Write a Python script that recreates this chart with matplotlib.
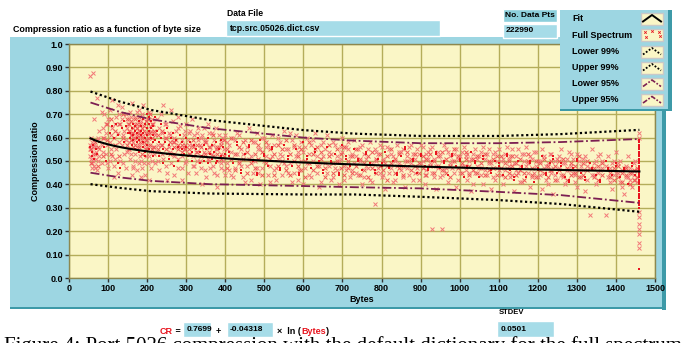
import numpy as np
import matplotlib.pyplot as plt
from matplotlib.patches import Rectangle

W, H = 683, 343
UI = ['Liberation Sans', 'DejaVu Sans']

# fit  CR = a + b * ln(Bytes)
fit_a = 0.7699
fit_b = -0.04318
stdev = 0.0501
n_points = 222990
data_file = 'tcp.src.05026.dict.csv'

x_ticks = list(range(0, 1600, 100))
y_ticks = [0.0, 0.1, 0.2, 0.3, 0.4, 0.5, 0.6, 0.7, 0.8, 0.9, 1.0]
y_tick_labels = ['0.0', '0.10', '0.20', '0.30', '0.40', '0.50',
                 '0.60', '0.70', '0.80', '0.90', '1.0']

# confidence bands
band_bytes = [55, 130, 210, 360, 600, 730, 900, 1100, 1260, 1460]
upper99 = [0.797, 0.754, 0.718, 0.675, 0.632, 0.617, 0.607, 0.607, 0.615, 0.633]
upper95 = [0.750, 0.710, 0.678, 0.640, 0.600, 0.587, 0.576, 0.576, 0.581, 0.594]
lower95 = [0.450, 0.430, 0.415, 0.401, 0.393, 0.388, 0.383, 0.368, 0.354, 0.321]
lower99 = [0.401, 0.385, 0.371, 0.361, 0.357, 0.357, 0.347, 0.333, 0.316, 0.283]

# full spectrum, one column per byte size: sparse samples / stacked samples
col_bytes = [55, 58, 61, 64, 68, 72, 78, 84, 90, 95, 100, 105, 110, 115, 120,
             125, 130, 135, 140, 145, 150, 155, 160, 165, 170, 175, 180, 185,
             190, 195, 200, 205, 210, 215, 220, 225, 230, 235, 240, 245, 250,
             255, 260, 265, 270, 275, 280, 285, 290, 295, 300, 305, 310, 315,
             320, 325, 330, 335, 340, 345, 350, 355, 360, 365, 370, 375, 380,
             385, 390, 395, 400,
             410, 420, 430, 440, 450, 460, 470, 480, 490, 500, 510, 520, 530,
             540, 550, 560, 570, 580, 590, 600, 610, 620, 630, 640, 650, 660,
             670, 680, 690, 700, 710, 720, 730,
             740, 750, 760, 770, 782, 790, 800, 810, 820, 830, 840, 850, 860,
             870, 880, 890, 900, 910, 920, 928, 930, 940, 950, 956, 960, 970,
             980, 990, 1000, 1010, 1020, 1030, 1040, 1050, 1060, 1070, 1080,
             1090, 1100,
             1110, 1120, 1130, 1140, 1150, 1160, 1170, 1180, 1190, 1200, 1210,
             1220, 1230, 1240, 1250, 1260, 1270, 1280, 1290, 1300, 1310, 1320,
             1333, 1340, 1350, 1360, 1374, 1380, 1390, 1400, 1410, 1420, 1430,
             1440, 1450, 1460]
col_cross = [
    [.864, .57, .55, .52], [.49, .47, .58], [.878, .56, .53, .50], [.57, .48, .68],
    [.54, .51], [.59, .46, .77], [.55, .63, .52], [.49, .57, .71], [.70, .60],
    [.66, .53, .62], [.47, .68], [.72, .58, .50], [.52, .64, .76], [.48, .60, .43],
    [.69, .55], [.45, .62, .74], [.66, .50], [.57, .73, .68], [.63, .53],
    [.47, .70, .59], [.55, .66], [.71, .51], [.62, .75, .44], [.58, .48],
    [.69, .53], [.64, .46], [.72, .57], [.67, .50, .43], [.61, .74], [.55, .44],
    [.68, .59], [.52, .71, .42], [.63, .47], [.56, .66], [.49, .61], [.68, .54],
    [.46, .64], [.57, .70], [.51, .74], [.60, .66], [.45, .42], [.56, .62],
    [.49, .72], [.67, .58], [.53, .44], [.63, .59], [.69, .51], [.56, .65],
    [.47, .42], [.61, .55], [.66, .50], [.59, .45], [.63, .53], [.68, .57],
    [.48, .61], [.54, .45], [.64, .59], [.50, .57], [.61, .40], [.54, .64],
    [.43, .58], [.51, .66], [.56, .47], [.62, .53], [.59, .45], [.64, .55],
    [.50, .39], [.61, .56], [.47, .53], [.60, .50], [.44, .61],
    [.57, .46], [.60, .43], [.53, .62], [.48, .55], [.59, .41], [.51, .64],
    [.45, .58], [.62, .47], [.55, .40], [.50, .60], [.44, .57], [.61, .52],
    [.47, .42], [.58, .53], [.63, .49], [.45, .55], [.59, .41], [.52, .61],
    [.46, .56], [.54, .40], [.60, .49], [.43, .57], [.55, .62], [.48, .39],
    [.58, .52], [.45, .61], [.53, .42], [.57, .47], [.50, .40], [.60, .54],
    [.46, .56], [.52, .43], [.59, .49],
    [.44, .55], [.57, .40], [.51, .48], [.42, .58], [.315, .55], [.53, .47],
    [.56, .43], [.49, .38], [.55, .45], [.41, .52], [.57, .48], [.46, .54],
    [.50, .39], [.56, .44], [.42, .53], [.55, .47], [.49, .57], [.44, .40],
    [.54, .51], [.21], [.56, .45], [.48, .38], [.52, .43], [.21], [.57, .46],
    [.41, .54], [.50, .47], [.55, .39], [.45, .52], [.56, .48], [.42, .53],
    [.51, .37], [.55, .45], [.47, .52], [.40, .56], [.53, .44], [.49, .38],
    [.54, .42], [.46, .55],
    [.51, .40], [.56, .47], [.43, .52], [.49, .37], [.55, .45], [.41, .53],
    [.48, .56], [.52, .39], [.45, .54], [.50, .43], [.55, .38], [.42, .48],
    [.53, .46], [.47, .36], [.51, .42], [.44, .55], [.49, .40], [.54, .46],
    [.45, .51], [.39, .53], [.48, .43], [.52, .37], [.27, .47], [.44, .55],
    [.50, .40], [.46, .53], [.27, .48], [.43, .52], [.49, .38], [.54, .45],
    [.41, .50], [.47, .36], [.52, .43], [.45, .39], [.50, .42],
    [.62, .60, .28, .26, .23, .21, .19, .15, .13]]
col_block = [
    [.56], [.54, .52], [.57], [.51, .59], [.55], [.53], [.58], [], [.56], [.50],
    [], [.62], [.65], [.60], [.66], [.61, .49], [.47], [.64], [.67, .58], [.65],
    [.62], [.60, .62], [.57, .64], [.66, .59, .61], [.63, .65, .55],
    [.58, .60, .62], [.67, .54, .59], [.63, .61, .65], [.56, .58, .62, .68],
    [.54, .66, .60, .52], [.64, .70, .57, .61], [.66, .69, .63, .55],
    [.67, .60, .64], [.58, .52, .61, .65], [.69, .59], [.63], [.58, .52],
    [.60, .66], [.55, .49], [.62, .58], [.53, .64], [.57, .51], [.60],
    [.55, .62], [.53, .48], [.59], [.56, .50], [.61], [.55, .58], [.53],
    [.60, .56], [.52], [.58], [.50, .54], [.57], [.52, .55], [.60], [.49, .54],
    [.52], [.57, .50], [.55], [.60, .49], [.53], [.57, .51], [.54], [.49, .58],
    [.50], [.55], [.52, .59], [.56], [.53],
    [.52, .54], [.49], [.57, .58], [.45, .46], [.53], [.56, .57], [.50],
    [.44, .45], [.59], [.52, .53], [.48], [.55, .56], [.50], [.46, .47], [.57],
    [.51, .52], [.48], [.55], [.44, .45], [.58], [.51, .52], [.47], [.54, .55],
    [.50], [.45, .46], [.56], [.49, .50], [.53], [.44, .45], [.57], [.51, .52],
    [.48], [.55],
    [.50, .51], [.46], [.53, .54], [.49], [.45, .46], [.51], [.48, .49], [.54],
    [.47, .48], [.50], [.44, .45], [.52], [.55, .56], [.48], [.50, .51], [.45],
    [.52, .53], [.48], [.46, .47], [], [.50], [.53, .54], [.47], [], [.49, .50],
    [.44], [.52, .53], [.48], [.50, .51], [.43], [.47, .48], [.54], [.49, .50],
    [.43], [.51, .52], [.47], [.45, .46], [.50], [.48, .49],
    [.44], [.52, .53], [.46], [.42, .43], [.50], [.47, .48], [.43], [.49, .50],
    [.41], [.46, .47], [.52], [.44, .45], [.49], [.51, .52], [.45], [.48, .49],
    [.43], [.41, .42], [.47], [.50, .51], [.45], [.42, .43], [.49], [.46, .47],
    [.44], [.41, .42], [.50], [.46, .47], [.44], [.48, .49], [.43], [.46, .47],
    [.40], [.48, .49], [.44],
    [.04, .30, .31, .32, .33, .34, .35, .36, .37, .38, .39, .40, .41, .42, .43,
     .44, .45, .46, .47, .48, .49, .50, .51, .52, .53, .54, .55, .56, .57, .58,
     .59]]

# in-between byte sizes (lighter samples)
mid_bytes = [57, 66, 75, 87, 98, 108, 118, 128, 138, 148, 153, 158, 163, 168,
             173, 178, 183, 188, 193, 198, 203, 208, 213, 218, 228, 238, 248,
             258, 268, 278, 288, 298, 308, 318, 328, 338, 348, 358, 368, 378,
             388, 398,
             405, 415, 425, 435, 445, 455, 465, 475, 485, 495, 505, 515, 525,
             535, 545, 555, 565, 575, 585, 595, 605, 615, 625, 635, 645, 655,
             665, 675, 685, 695, 705, 715, 725,
             735, 745, 755, 765, 775, 785, 795, 805, 815, 825, 835, 845, 855,
             865, 875, 885, 895, 905, 915, 925, 935, 945, 955, 965, 975, 985,
             995, 1005, 1015, 1025, 1035, 1045, 1055, 1065, 1075, 1085, 1095,
             1105, 1115, 1125, 1135, 1145, 1155, 1165, 1175, 1185, 1195, 1205,
             1215, 1225, 1235, 1245, 1255, 1265, 1275, 1285, 1295, 1305, 1315,
             1325, 1345, 1355, 1365, 1385, 1395, 1405, 1415, 1425, 1435, 1445,
             1455]
mid_cross = [
    [.60, .51], [.56, .47], [.60, .50], [.54, .64], [.57, .49], [.61, .55],
    [.51, .66], [.58, .70], [.49, .61], [.64, .54], [.58, .68], [.53, .69],
    [.60, .47], [.66, .50], [.56, .71], [.49, .62], [.60, .52], [.70, .47],
    [.57, .49], [.52, .62], [.57, .49], [.65, .54], [.50, .68], [.62, .53],
    [.57, .50], [.53, .62], [.48, .66], [.54, .61], [.52, .60], [.47, .64],
    [.52, .59], [.63, .49], [.57, .62], [.52, .48], [.62, .50], [.47, .60],
    [.59, .46], [.50, .62], [.48, .57], [.55, .44], [.58, .49], [.46, .55],
    [.49, .58], [.54, .44], [.47, .59], [.61, .50], [.43, .53], [.56, .48],
    [.52, .42], [.58, .50], [.45, .55], [.60, .47], [.52, .56], [.48, .41],
    [.57, .46], [.51, .60], [.44, .52], [.55, .48], [.49, .62], [.56, .45],
    [.42, .54], [.58, .50], [.47, .56], [.53, .44], [.50, .59], [.45, .52],
    [.57, .41], [.49, .55], [.54, .48], [.43, .58], [.52, .46], [.56, .51],
    [.48, .42], [.55, .58], [.46, .53],
    [.52, .45], [.50, .56], [.43, .53], [.55, .47], [.49, .41], [.54, .50],
    [.45, .57], [.51, .44], [.56, .48], [.47, .53], [.50, .42], [.54, .49],
    [.43, .55], [.52, .47], [.49, .57], [.45, .51], [.53, .42], [.50, .56],
    [.46, .53], [.55, .49], [.43, .51], [.54, .47], [.50, .44], [.47, .55],
    [.52, .49], [.45, .53], [.51, .42], [.54, .48], [.46, .52], [.50, .45],
    [.53, .40], [.48, .51], [.44, .54], [.51, .46], [.49, .55], [.53, .43],
    [.47, .50],
    [.50, .44], [.46, .53], [.51, .48], [.44, .55], [.52, .46], [.48, .41],
    [.53, .50], [.45, .49], [.51, .43], [.48, .54], [.44, .50], [.52, .47],
    [.49, .40], [.45, .53], [.50, .44], [.47, .52], [.43, .49], [.51, .46],
    [.48, .53], [.44, .41], [.50, .46], [.46, .51], [.42, .48], [.49, .44],
    [.45, .52], [.50, .47], [.47, .41], [.44, .50], [.49, .45], [.46, .39],
    [.43, .48], [.47, .42], [.44, .49], [.46, .41]]
mid_extra = [
    [.55, .49], [.53, .58], [.56, .48], [.60, .52], [.59, .66], [.68, .53],
    [.63, .57], [.66, .52], [.60, .70], [.57, .68], [.63, .66, .55],
    [.61, .59, .67], [.64, .56, .62], [.60, .57, .68], [.61, .64, .66],
    [.56, .63, .69], [.58, .66, .61], [.60, .64, .53], [.63, .58, .65],
    [.59, .67, .55], [.60, .62, .68], [.57, .62, .70], [.55, .60, .66],
    [.56, .63], [.61, .55], [.57, .63], [.60, .55], [.58, .53], [.56, .58],
    [.55, .57], [.57, .54], [.55, .57], [.55, .53], [.56, .59], [.54, .57],
    [.56, .52], [.53, .58], [.56, .54], [.61, .52], [.53, .56], [.51, .57],
    [.59, .52],
    [.55, .47], [.60, .51], [.53, .46], [.49, .56], [.58, .51], [.45, .54],
    [.59, .49], [.47, .53], [.51, .57], [.54, .44], [.49, .58], [.55, .51],
    [.44, .53], [.57, .48], [.50, .55], [.46, .59], [.53, .44], [.50, .57],
    [.48, .52], [.55, .46], [.43, .50], [.58, .49], [.46, .53], [.56, .48],
    [.51, .54], [.47, .43], [.52, .57], [.49, .45], [.55, .50], [.47, .53],
    [.44, .56], [.50, .47], [.52, .45],
    [.48, .55], [.44, .51], [.49, .46], [.52, .43], [.47, .54], [.51, .45],
    [.48, .53], [.46, .50], [.52, .42], [.49, .55], [.45, .51], [.53, .47],
    [.48, .44], [.50, .54], [.46, .51], [.53, .48], [.49, .45], [.47, .52],
    [.51, .44], [.48, .53], [.45, .50], [.52, .48], [.46, .54], [.51, .45],
    [.48, .43], [.50, .55], [.47, .52], [.45, .49], [.51, .54], [.48, .44],
    [.46, .51], [.52, .45], [.49, .47], [.44, .53], [.50, .46], [.47, .51],
    [.52, .44],
    [.47, .52], [.49, .43], [.45, .50], [.48, .52], [.44, .49], [.51, .46],
    [.45, .42], [.50, .53], [.47, .44], [.43, .50], [.49, .46], [.45, .51],
    [.48, .43], [.50, .46], [.42, .48], [.46, .50], [.51, .44], [.47, .42],
    [.44, .49], [.48, .45], [.43, .52], [.49, .44], [.46, .50], [.43, .47],
    [.48, .42], [.44, .49], [.45, .43], [.47, .42], [.43, .48], [.45, .41],
    [.47, .44], [.45, .40], [.42, .46], [.43, .47]]

legend_names = ['Fit', 'Full Spectrum', 'Lower 99%', 'Upper 99%', 'Lower 95%', 'Upper 95%']

panel_blue = '#9dd6e2'
field_blue = '#a6dce8'
shadow = '#3d9aa8'
plot_bg = '#faf6c6'
grid_c = '#b4ad5a'
pt_light = '#f27878'
pt_mid = '#ee5858'
pt_dark = '#e8141e'
band95_c = '#7c1f52'


def px(x):
    return x / W


def py(y):
    return 1 - y / H


def flatten(bytes_list, groups):
    xs = [b for b, ys in zip(bytes_list, groups) for _ in ys]
    ys = [v for g in groups for v in g]
    return xs, ys


cx1, cy1 = flatten(col_bytes, col_cross)
cx2, cy2 = flatten(mid_bytes, mid_cross)
ex, ey = flatten(mid_bytes, mid_extra)
block_x, block_y = flatten(col_bytes, col_block)
cross_x, cross_y = cx1 + cx2, cy1 + cy2
fit_x = np.array(col_bytes, dtype=float)
fit_y = fit_a + fit_b * np.log(fit_x)

fig = plt.figure(figsize=(W / 100, H / 100), dpi=100, facecolor='white')

# background layer in pixel coordinates
bg = fig.add_axes([0, 0, 1, 1], zorder=0)
bg.set_xlim(0, W)
bg.set_ylim(H, 0)
bg.axis('off')
bg.add_patch(Rectangle((10, 37), 654, 271, fc=panel_blue, ec='none'))
bg.add_patch(Rectangle((662, 37), 4, 273, fc=shadow, ec='none'))
bg.add_patch(Rectangle((10, 307), 656, 2, fc=shadow, ec='none'))
bg.text(13, 29, 'Compression ratio as a function of byte size', fontsize=6.4,
        fontweight='bold', family=UI, va='center')
bg.text(227, 13, 'Data File', fontsize=6.2, fontweight='bold', family=UI, va='center')
bg.add_patch(Rectangle((226, 20), 214, 16, fc=field_blue, ec='white', lw=1))
bg.text(230, 28.5, data_file, fontsize=6.2, fontweight='bold', family=UI, va='center')
bg.add_patch(Rectangle((503, 9), 54, 13, fc='#8ccfdc', ec='white', lw=1))
bg.text(530, 15.5, 'No. Data Pts', fontsize=6, fontweight='bold', family=UI,
        va='center', ha='center')
bg.add_patch(Rectangle((503, 24), 54, 14, fc=field_blue, ec='white', lw=1))
bg.text(506, 31, str(n_points), fontsize=6, fontweight='bold', family=UI, va='center')

# fit equation, laid out piece by piece
renderer = fig.canvas.get_renderer()
eq_parts = [('CR', '#e8141e', None), (' = ', 'black', None),
            ('%.4f' % fit_a, 'black', 28), ('  +  ', 'black', None),
            ('%.5f' % fit_b, 'black', 46), ('  \u00d7  ln (', 'black', None),
            ('Bytes', '#e8141e', None), (')', 'black', None)]
xpos = 160
inv = bg.transData.inverted()
for txt, col, box_w in eq_parts:
    if box_w is not None:
        bg.add_patch(Rectangle((xpos, 322), box_w, 15, fc=field_blue, ec='white', lw=1))
        bg.text(xpos + 3, 329.5, txt, fontsize=6, fontweight='bold', family=UI,
                va='center', color=col)
        xpos += box_w
        continue
    t = bg.text(xpos, 331, txt, fontsize=6.5, fontweight='bold', family=UI,
                va='center', color=col)
    ext = t.get_window_extent(renderer)
    x0 = inv.transform((ext.x0, 0))[0]
    x1 = inv.transform((ext.x1, 0))[0]
    xpos += x1 - x0

bg.text(499, 313, 'STDEV', fontsize=5.5, fontweight='bold', family=UI, va='center')
bg.add_patch(Rectangle((497, 321), 57, 16, fc=field_blue, ec='white', lw=1))
bg.text(501, 329.5, '%.4f' % stdev, fontsize=6, fontweight='bold', family=UI,
        va='center')
bg.text(4, 336.5, 'Figure 4: Port 5026 compression with the default dictionary for the full spectrum',
        fontsize=15, family=['Liberation Serif', 'DejaVu Serif'], va='top')

# main plot
ax = fig.add_axes([px(69), py(278), px(655 - 69), (278 - 44) / H], zorder=1)
ax.set_facecolor(plot_bg)
ax.set_xlim(0, 1500)
ax.set_ylim(0, 1.0)
ax.set_xticks(x_ticks)
ax.set_yticks(y_ticks)
ax.set_yticklabels(y_tick_labels)
ax.grid(True, color=grid_c, lw=1)
ax.set_axisbelow(True)
for s in ax.spines.values():
    s.set_color('#8c8850')
    s.set_linewidth(1)
ax.tick_params(direction='out', length=3, width=1, color='#333333', pad=1.5,
               labelsize=6.5)
for lab in ax.get_xticklabels() + ax.get_yticklabels():
    lab.set_fontweight('bold')
    lab.set_family(UI)
ax.set_xlabel('Bytes', fontsize=6.5, fontweight='bold', family=UI, labelpad=1)
ax.set_ylabel('Compression ratio', fontsize=6.5, fontweight='bold', family=UI,
              labelpad=4)

ax.plot(cross_x, cross_y, ls='none', marker='x', ms=3.0, mew=0.7, color=pt_light,
        zorder=3)
ax.plot(ex, ey, ls='none', marker='x', ms=2.8, mew=0.7, color=pt_mid, zorder=3)
ax.plot(block_x, block_y, ls='none', marker='s', ms=2.1, mew=0, color=pt_dark,
        zorder=3)
ax.plot(band_bytes, upper99, ls=(0, (1, 1.2)), lw=1.6, color='black', zorder=4)
ax.plot(band_bytes, lower99, ls=(0, (1, 1.2)), lw=1.6, color='black', zorder=4)
ax.plot(band_bytes, upper95, ls=(0, (5, 1.5, 1, 1.5)), lw=1.3, color=band95_c, zorder=4)
ax.plot(band_bytes, lower95, ls=(0, (5, 1.5, 1, 1.5)), lw=1.3, color=band95_c, zorder=4)
ax.plot(fit_x, fit_y, color='black', lw=1.5, zorder=5)

# legend panel on top
lg = fig.add_axes([0, 0, 1, 1], zorder=2)
lg.set_xlim(0, W)
lg.set_ylim(H, 0)
lg.axis('off')
lg.patch.set_alpha(0)
lg.add_patch(Rectangle((560, 10), 108, 99, fc=panel_blue, ec='none'))
lg.add_patch(Rectangle((668, 10), 4, 101, fc=shadow, ec='none'))
lg.add_patch(Rectangle((560, 109), 112, 2, fc=shadow, ec='none'))
row_y = [18.5, 35, 51.5, 67.5, 83.5, 100]
styles = [dict(color='black', lw=1.4, ls='-'),
          None,
          dict(color='black', lw=1.3, ls=(0, (1, 1))),
          dict(color='black', lw=1.3, ls=(0, (1, 1))),
          dict(color=band95_c, lw=1.2, ls=(0, (3, 1, 1, 1))),
          dict(color=band95_c, lw=1.2, ls=(0, (3, 1, 1, 1)))]
for name, yc, st in zip(legend_names, row_y, styles):
    lg.text(572, yc, name, fontsize=6.5, fontweight='bold', family=UI, va='center')
    lg.add_patch(Rectangle((641, yc - 6), 22, 12, fc=plot_bg, ec='#c8c8c8', lw=1))
    if st is None:
        lg.plot([645, 652, 659, 646, 660], [yc - 3, yc - 4, yc - 3, yc + 2, yc + 1],
                ls='none', marker='x', ms=1.8, mew=0.6, color=pt_dark)
    else:
        lg.plot([643, 652, 661], [yc + 3, yc - 3.5, yc + 3], **st)

fig.savefig('out.png', dpi=100, facecolor='white')
